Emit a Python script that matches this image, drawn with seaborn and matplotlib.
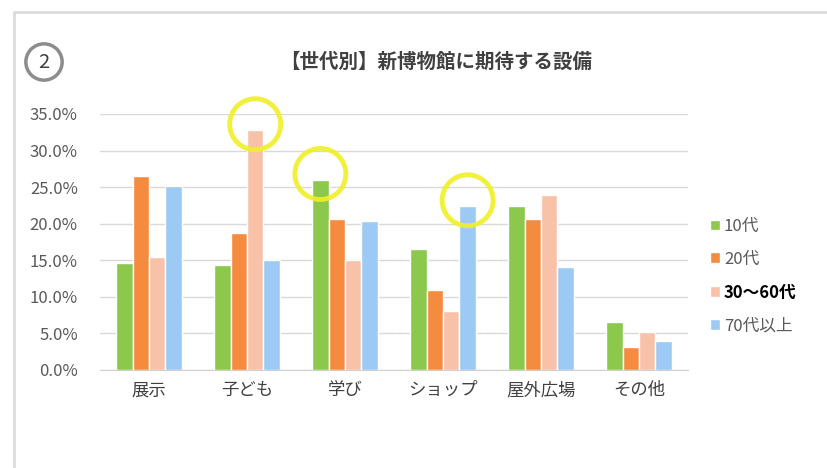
import pandas as pd
import matplotlib.pyplot as plt
import seaborn as sns
from matplotlib.patches import Rectangle

# =============================================================================
# data
# =============================================================================
categories = ['展示', '子ども', '学び', 'ショップ', '屋外広場', 'その他']
generations = ['10代', '20代', '30～60代', '70代以上']

teens = [14.6, 14.3, 26.0, 16.5, 22.4, 6.6]
twenties = [26.5, 18.7, 20.6, 11.0, 20.6, 3.1]
thirty_sixty = [15.5, 32.8, 15.0, 8.0, 23.9, 5.2]
seventy_plus = [25.2, 15.0, 20.4, 22.4, 14.1, 3.9]

# bars highlighted with a yellow circle (category, generation)
highlights = [('子ども', '30～60代'), ('学び', '10代'), ('ショップ', '70代以上')]

colors = ['#8CC84B', '#F58B3F', '#F8C2A9', '#9DCAF5']

df = pd.DataFrame({
    'category': categories * 4,
    'generation': [g for g in generations for _ in categories],
    'value': teens + twenties + thirty_sixty + seventy_plus,
})

sns.set_style('white')
plt.rcParams['font.family'] = ['Noto Sans CJK JP', 'DejaVu Sans']

fig = plt.figure(figsize=(8.27, 4.68), dpi=100)
ax = fig.add_axes([100 / 827, 1 - 370 / 468, 588 / 827, 256 / 468])

sns.barplot(data=df, x='category', y='value', hue='generation', order=categories,
            hue_order=generations, palette=colors, width=0.67, gap=0, saturation=1,
            ax=ax)

ax.set_ylim(0, 35)
ax.set_yticks(range(0, 36, 5))
ax.set_yticklabels([f'{v:.1f}%' for v in range(0, 36, 5)], fontsize=12, color='#595959')
ax.tick_params(axis='x', labelsize=12.5, colors='#404040', length=0, pad=8)
ax.tick_params(axis='y', length=0, pad=16)
ax.set_xlabel('')
ax.set_ylabel('')
ax.set_xlim(-0.5, len(categories) - 0.5)
ax.grid(True, axis='y', color='#d9d9d9', linewidth=1)
ax.set_axisbelow(True)
for s in ['top', 'right', 'left']:
    ax.spines[s].set_visible(False)
ax.spines['bottom'].set_color('#d0d0d0')

# yellow circles on the highlighted bars
for cat, gen in highlights:
    bar = ax.containers[generations.index(gen)][categories.index(cat)]
    cx = bar.get_x() + bar.get_width() / 2
    cy = bar.get_height() + 0.8
    ax.scatter([cx], [cy], s=1350, facecolor='none', edgecolor='#F0F028',
               linewidth=3.5, alpha=0.9, clip_on=False, zorder=5)

# legend
leg = ax.legend(loc='center left', bbox_to_anchor=(703 / 827, 1 - 276 / 468),
                bbox_transform=fig.transFigure, frameon=False, fontsize=12,
                handlelength=0.6, handleheight=0.6, handletextpad=0.25,
                labelspacing=0.95, borderaxespad=0)
for t in leg.get_texts():
    t.set_color('#595959')
    if t.get_text() == '30～60代':
        t.set_color('black')
        t.set_fontweight('bold')

# title and number badge
fig.text(436 / 827, 1 - 62 / 468, '【世代別】新博物館に期待する設備', ha='center', va='center',
         fontsize=14, fontweight='bold', color='#404040')
fig.text(44 / 827, 1 - 62 / 468, '2', ha='center', va='center', fontsize=14.5, color='#404040',
         bbox=dict(boxstyle='circle,pad=0.38', facecolor='white', edgecolor='#8c8c8c', linewidth=2.5))

# outer frame
fig.add_artist(Rectangle((14 / 827, -0.1), 1.2, 1 - 12 / 468 + 0.1, transform=fig.transFigure,
                         facecolor='none', edgecolor='#dcdcdc', linewidth=2))

fig.savefig('out.png', dpi=100)
